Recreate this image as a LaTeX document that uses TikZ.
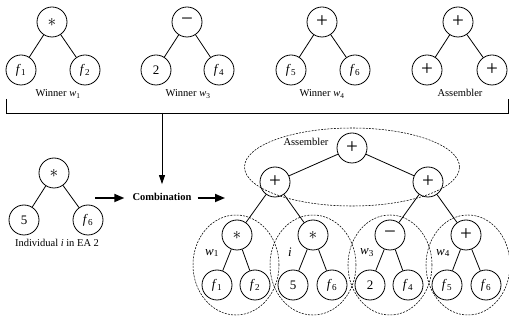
\documentclass[tikz,border=0pt]{standalone}
\usepackage{fontspec}
\setmainfont{Liberation Serif}
\usetikzlibrary{arrows.meta,shapes.geometric}
\newcommand\opast{{\fontsize{17}{17}\selectfont$\ast$}}
\newcommand\opmin{{\fontsize{21}{21}\selectfont −}}
\newcommand\opplus{{\fontsize{21}{21}\selectfont +}}
\newcommand\fv[1]{\textit{f}\textsubscript{#1}}
\newcommand\wv[1]{\textit{w}\textsubscript{#1}}
\begin{document}
\begin{tikzpicture}[x=1pt,y=-1pt,
  nd/.style={draw, circle, minimum size=30pt, inner sep=0pt, line width=0.8pt, font=\fontsize{13}{13}\selectfont},
  edge/.style={line width=0.8pt},
  lbl/.style={font=\fontsize{10.5}{12}\selectfont, inner sep=0pt},
  grp/.style={draw, ellipse, dash pattern=on 2pt off 1.2pt, line width=0.55pt, inner sep=0pt},
  harrow/.style={line width=1.7pt, -{Triangle[length=10pt,width=8pt]}},
  varrow/.style={line width=0.8pt, -{Triangle[length=9pt,width=6pt]}}]
\useasboundingbox (0,0) rectangle (509,320);

% ---------- top row ----------
\node[nd] (t1r) at (52,22) {\opast};
\node[nd] (t1a) at (21,70) {\fv{1}};
\node[nd] (t1b) at (85,70) {\fv{2}};
\node[lbl] (t1l) at (58,94) {Winner \wv{1}};
\draw[edge] (t1r) -- (t1a); \draw[edge] (t1r) -- (t1b);

\node[nd] (t2r) at (187,22) {\opmin};
\node[nd] (t2a) at (156,70) {2};
\node[nd] (t2b) at (219,70) {\fv{4}};
\node[lbl] (t2l) at (188,94) {Winner \wv{3}};
\draw[edge] (t2r) -- (t2a); \draw[edge] (t2r) -- (t2b);

\node[nd] (t3r) at (322,22) {\opplus};
\node[nd] (t3a) at (291,70) {\fv{5}};
\node[nd] (t3b) at (355,70) {\fv{6}};
\node[lbl] (t3l) at (322,94) {Winner \wv{4}};
\draw[edge] (t3r) -- (t3a); \draw[edge] (t3r) -- (t3b);

\node[nd] (t4r) at (458,22) {\opplus};
\node[nd] (t4a) at (427,70) {\opplus};
\node[nd] (t4b) at (492,70) {\opplus};
\node[lbl] (t4l) at (460,93) {Assembler};
\draw[edge] (t4r) -- (t4a); \draw[edge] (t4r) -- (t4b);

% ---------- bracket ----------
\coordinate (bl0) at (6,99);
\coordinate (bl1) at (6,113);
\coordinate (br1) at (508,113);
\coordinate (br0) at (508,99);
\coordinate (bm) at (162,113);
\draw[edge] (bl0) -- (bl1) -- (br1) -- (br0);

% ---------- individual ----------
\node[nd] (ir) at (54,173) {\opast};
\node[nd] (ia) at (24,220) {5};
\node[nd] (ib) at (88,220) {\fv{6}};
\node[lbl] (il) at (57,243) {Individual \textit{i} in EA 2};
\draw[edge] (ir) -- (ia); \draw[edge] (ir) -- (ib);

\node[lbl, font=\bfseries\fontsize{10.5}{12}\selectfont] (comb) at (162,197) {Combination};
\draw[varrow, shorten >=9pt] (bm) -- (comb);
\coordinate (a1s) at (95,198);
\coordinate (a2e) at (225,198);
\draw[harrow, shorten >=8pt] (a1s) -- (comb.west |- a1s);
\draw[harrow, shorten <=6pt] (comb.east |- a2e) -- (a2e);

% ---------- combined tree ----------
\node[grp, minimum width=215pt, minimum height=78pt] (gA) at (352,167) {};
\node[lbl] (gAl) at (306,142) {Assembler};
\node[grp, minimum width=86pt, minimum height=100pt] (g1) at (236,265) {};
\node[grp, minimum width=86pt, minimum height=100pt] (g2) at (313,265) {};
\node[grp, minimum width=84pt, minimum height=100pt] (g3) at (390,265) {};
\node[grp, minimum width=84pt, minimum height=100pt] (g4) at (468,265) {};

\node[nd, fill=white] (R) at (352,148) {\opplus};
\node[nd] (L) at (275,182) {\opplus};
\node[nd] (Rr) at (428,182) {\opplus};
\node[nd] (s1) at (237,235) {\opast};
\node[nd] (s2) at (313,235) {\opast};
\node[nd] (s3) at (390,235) {\opmin};
\node[nd] (s4) at (466,235) {\opplus};
\node[nd] (l1) at (217,285) {\fv{1}};
\node[nd] (l2) at (255,285) {\fv{2}};
\node[nd] (l3) at (293,285) {5};
\node[nd] (l4) at (332,285) {\fv{6}};
\node[nd] (l5) at (370,285) {2};
\node[nd] (l6) at (408,285) {\fv{4}};
\node[nd] (l7) at (447,285) {\fv{5}};
\node[nd] (l8) at (486,285) {\fv{6}};

\draw[edge] (R) -- (L); \draw[edge] (R) -- (Rr);
\draw[edge] (L) -- (s1); \draw[edge] (L) -- (s2);
\draw[edge] (Rr) -- (s3); \draw[edge] (Rr) -- (s4);
\draw[edge] (s1) -- (l1); \draw[edge] (s1) -- (l2);
\draw[edge] (s2) -- (l3); \draw[edge] (s2) -- (l4);
\draw[edge] (s3) -- (l5); \draw[edge] (s3) -- (l6);
\draw[edge] (s4) -- (l7); \draw[edge] (s4) -- (l8);

\node[lbl, font=\fontsize{13}{13}\selectfont] (w1l) at (212,253) {\wv{1}};
\node[lbl, font=\fontsize{13}{13}\selectfont] (w2l) at (290,252) {\textit{i}};
\node[lbl, font=\fontsize{13}{13}\selectfont] (w3l) at (367,253) {\wv{3}};
\node[lbl, font=\fontsize{13}{13}\selectfont] (w4l) at (443,253) {\wv{4}};
\end{tikzpicture}
\end{document}
